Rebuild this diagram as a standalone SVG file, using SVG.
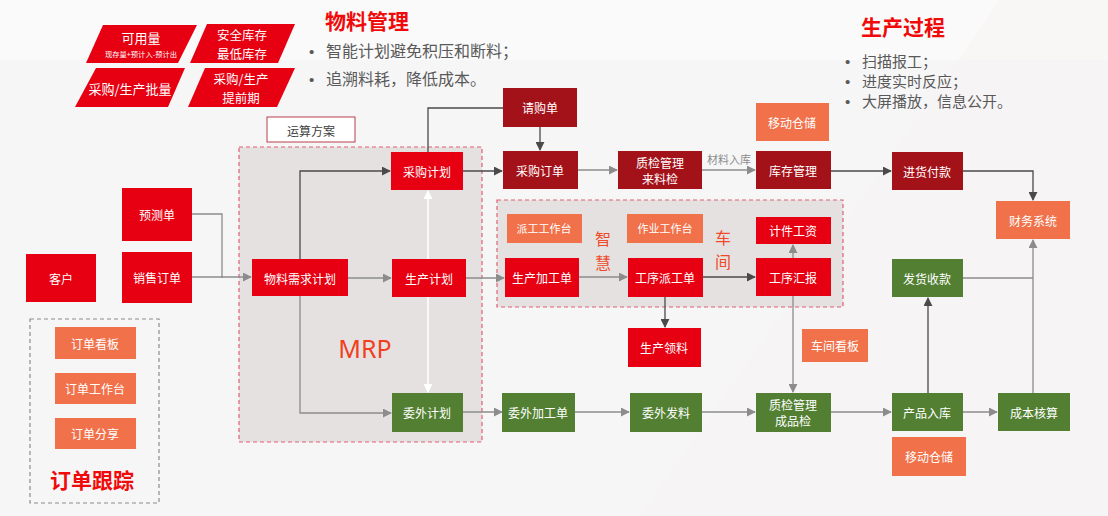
<svg xmlns="http://www.w3.org/2000/svg" width="1108" height="516" viewBox="0 0 1108 516">
<defs>
<style>
text{font-family:"Noto Sans CJK SC","Noto Sans",sans-serif}
.n{font-size:12px;fill:#fff;text-anchor:middle;dominant-baseline:central}
.red{fill:#E60012}
.dred{fill:#A31119}
.grn{fill:#527F32}
.org{fill:#F0714A}
.dk{fill:none;stroke:#4A4A4A;stroke-width:1.3}
.gy{fill:none;stroke:#8C8C8C;stroke-width:1.3}
.wh{fill:none;stroke:#FFFFFF;stroke-width:1.6}
.bul{font-size:15px;fill:#595959}
.dot{font-family:"Liberation Sans",Arial,sans-serif;font-size:15px;fill:#595959}
.ttl{font-size:21px;font-weight:bold;fill:#F00A0A}
.zone{fill:#E6E1E1;stroke:#E06075;stroke-width:1.2;stroke-dasharray:4 3}
</style>
<marker id="ad" viewBox="0 0 10 10" refX="9" refY="5" markerWidth="9" markerHeight="9" markerUnits="userSpaceOnUse" orient="auto"><path d="M0,0 L10,5 L0,10 z" fill="#4A4A4A"/></marker>
<marker id="ag" viewBox="0 0 10 10" refX="9" refY="5" markerWidth="9" markerHeight="9" markerUnits="userSpaceOnUse" orient="auto"><path d="M0,0 L10,5 L0,10 z" fill="#8C8C8C"/></marker>
<marker id="aw" viewBox="0 0 10 10" refX="9" refY="5" markerWidth="9" markerHeight="9" markerUnits="userSpaceOnUse" orient="auto"><path d="M0,0 L10,5 L0,10 z" fill="#FFFFFF"/></marker>
</defs>

<g id="background">
<rect x="0" y="0" width="1108" height="516" fill="#F6F6F7"/>
<polygon points="0,0 1108,0 1108,60 0,60" fill="#FAFAFA"/>
<polygon points="1000,0 1108,0 1108,516 640,516" fill="#F8F3F3" opacity="0.7"/>
</g>

<g id="param-cards">
<g id="card-available">
<polygon points="103,25 197,25 178,63 86,63" class="red"/>
<text x="141" y="37" class="n" style="font-size:13px">可用量</text>
<text x="141" y="54" class="n" style="font-size:7px" textLength="72" lengthAdjust="spacingAndGlyphs">现存量+预计入-预计出</text>
</g>
<g id="card-safety">
<polygon points="207,24 295,24 278,63 190,63" class="red"/>
<text x="242" y="34" class="n" style="font-size:12.5px">安全库存</text>
<text x="242" y="53" class="n" style="font-size:12.5px">最低库存</text>
</g>
<g id="card-batch">
<polygon points="96,68 185,68 168,107 75,107" class="red"/>
<text x="130" y="88" class="n" style="font-size:13px">采购/生产批量</text>
</g>
<g id="card-leadtime">
<polygon points="205,68 295,68 277,107 188,107" class="red"/>
<text x="241" y="78" class="n" style="font-size:12.5px">采购/生产</text>
<text x="241" y="97" class="n" style="font-size:12.5px">提前期</text>
</g>
</g>

<g id="material-mgmt">
<text x="325" y="29" class="ttl">物料管理</text>
<text x="309" y="57" class="dot">•</text>
<text x="326" y="57" class="bul" style="font-size:16px">智能计划避免积压和断料；</text>
<text x="309" y="85" class="dot">•</text>
<text x="326" y="85" class="bul" style="font-size:16px">追溯料耗，降低成本。</text>
</g>

<g id="production-process">
<text x="861" y="35" class="ttl">生产过程</text>
<text x="845" y="67" class="dot">•</text>
<text x="862" y="67" class="bul">扫描报工；</text>
<text x="845" y="87" class="dot">•</text>
<text x="862" y="87" class="bul">进度实时反应；</text>
<text x="845" y="107" class="dot">•</text>
<text x="862" y="107" class="bul">大屏播放，信息公开。</text>
</g>

<g id="zone-mrp">
<rect x="239" y="147" width="243" height="295" class="zone"/>
<text x="365" y="348" font-size="25" fill="#F0401E" text-anchor="middle" dominant-baseline="central" style="font-family:'Noto Sans','Open Sans',sans-serif">MRP</text>
</g>

<g id="zone-workshop">
<rect x="497" y="200" width="346" height="107" class="zone"/>
<text x="603" y="238" font-size="16" fill="#EE4B2B" text-anchor="middle" dominant-baseline="central">智</text>
<text x="603" y="262" font-size="16" fill="#EE4B2B" text-anchor="middle" dominant-baseline="central">慧</text>
<text x="723" y="237" font-size="16" fill="#EE4B2B" text-anchor="middle" dominant-baseline="central">车</text>
<text x="723" y="261" font-size="16" fill="#EE4B2B" text-anchor="middle" dominant-baseline="central">间</text>
</g>

<g id="zone-order-tracking">
<rect x="30" y="319" width="129" height="184" fill="none" stroke="#8C8C8C" stroke-width="1.2" stroke-dasharray="4 3"/>
<text x="92" y="479" font-size="21" font-weight="bold" fill="#F00A0A" text-anchor="middle" dominant-baseline="central">订单跟踪</text>
</g>

<g id="connectors">
<path d="M192,214 H222 V278" class="gy"/>
<path d="M192,277 H222 H251" class="gy" marker-end="url(#ag)"/>
<path d="M300,259 V171 H390" class="dk" marker-end="url(#ad)"/>
<path d="M348,278 H391" class="gy" marker-end="url(#ag)"/>
<path d="M300,296 V413 H391" class="gy" marker-end="url(#ag)"/>
<path d="M428,259 V191" class="wh" marker-end="url(#aw)"/>
<path d="M428,297 V392" class="wh" marker-end="url(#aw)"/>
<path d="M428,152 V108 H503" class="dk"/>
<path d="M540,127 V150" class="dk" marker-end="url(#ad)"/>
<path d="M463,171 H502" class="dk" marker-end="url(#ad)"/>
<path d="M578,170 H617" class="gy" marker-end="url(#ag)"/>
<path d="M702,170 H755" class="gy" marker-end="url(#ag)"/>
<text x="729" y="159" font-size="11" fill="#8C8C8C" text-anchor="middle" dominant-baseline="central">材料入库</text>
<path d="M831,171 H891" class="dk" marker-end="url(#ad)"/>
<path d="M963,171 H1033 V200" class="dk" marker-end="url(#ad)"/>
<path d="M963,278 H1033" class="gy"/>
<path d="M1033,393 V240" class="gy" marker-end="url(#ag)"/>
<path d="M466,278 H504" class="gy" marker-end="url(#ag)"/>
<path d="M579,277 H627" class="gy" marker-end="url(#ag)"/>
<path d="M703,277 H755" class="dk" marker-end="url(#ad)"/>
<path d="M665,297 V327" class="dk" marker-end="url(#ad)"/>
<path d="M793,258 V245" class="gy" marker-end="url(#ag)"/>
<path d="M793,296 V392" class="gy" marker-end="url(#ag)"/>
<path d="M463,412 H502" class="gy" marker-end="url(#ag)"/>
<path d="M575,412 H629" class="gy" marker-end="url(#ag)"/>
<path d="M702,412 H755" class="gy" marker-end="url(#ag)"/>
<path d="M831,412 H891" class="gy" marker-end="url(#ag)"/>
<path d="M963,412 H997" class="gy" marker-end="url(#ag)"/>
<path d="M928,393 V298" class="dk" marker-end="url(#ad)"/>
</g>

<g id="node-plan-box">
<rect x="267" y="117" width="88" height="25" fill="#FFFFFF" stroke="#B5404A" stroke-width="1"/>
<text x="311" y="130" class="n" style="fill:#404040">运算方案</text>
</g>

<g id="node-forecast"><rect x="122" y="188" width="70" height="53" class="red"/><text x="157" y="214" class="n">预测单</text></g>
<g id="node-sales-order"><rect x="122" y="252" width="70" height="51" class="red"/><text x="157" y="277" class="n">销售订单</text></g>
<g id="node-customer"><rect x="26" y="254" width="70" height="48" class="red"/><text x="61" y="278" class="n">客户</text></g>
<g id="node-order-board"><rect x="55" y="327" width="81" height="32" class="org"/><text x="95" y="343" class="n">订单看板</text></g>
<g id="node-order-desk"><rect x="55" y="373" width="81" height="31" class="org"/><text x="95" y="388" class="n">订单工作台</text></g>
<g id="node-order-share"><rect x="55" y="418" width="81" height="31" class="org"/><text x="95" y="433" class="n">订单分享</text></g>

<g id="node-mrp-calc"><rect x="252" y="259" width="96" height="37" class="red"/><text x="300" y="278" class="n">物料需求计划</text></g>
<g id="node-purchase-plan"><rect x="391" y="152" width="72" height="38" class="red"/><text x="427" y="171" class="n">采购计划</text></g>
<g id="node-production-plan"><rect x="392" y="259" width="74" height="38" class="red"/><text x="429" y="278" class="n">生产计划</text></g>
<g id="node-outsource-plan"><rect x="392" y="393" width="71" height="39" class="grn"/><text x="427" y="412" class="n">委外计划</text></g>

<g id="node-requisition"><rect x="503" y="88" width="74" height="39" class="dred"/><text x="540" y="107" class="n">请购单</text></g>
<g id="node-purchase-order"><rect x="503" y="151" width="75" height="38" class="dred"/><text x="540" y="170" class="n">采购订单</text></g>
<g id="node-incoming-qc"><rect x="618" y="151" width="84" height="38" class="dred"/><text x="660" y="162" class="n">质检管理</text><text x="660" y="178" class="n">来料检</text></g>
<g id="node-inventory"><rect x="756" y="151" width="75" height="38" class="dred"/><text x="793" y="170" class="n">库存管理</text></g>
<g id="node-mobile-wh-top"><rect x="756" y="103" width="73" height="38" class="org"/><text x="792" y="122" class="n">移动仓储</text></g>
<g id="node-payment"><rect x="892" y="152" width="71" height="38" class="dred"/><text x="927" y="171" class="n">进货付款</text></g>
<g id="node-finance"><rect x="996" y="201" width="74" height="38" class="org"/><text x="1033" y="220" class="n">财务系统</text></g>

<g id="node-dispatch-desk"><rect x="507" y="214" width="75" height="29" class="org"/><text x="544" y="228" class="n" style="font-size:11px">派工工作台</text></g>
<g id="node-work-desk"><rect x="627" y="214" width="76" height="29" class="org"/><text x="665" y="228" class="n" style="font-size:11px">作业工作台</text></g>
<g id="node-piece-wage"><rect x="756" y="217" width="75" height="27" class="red"/><text x="793" y="230" class="n">计件工资</text></g>
<g id="node-work-order"><rect x="505" y="258" width="74" height="39" class="red"/><text x="542" y="277" class="n">生产加工单</text></g>
<g id="node-dispatch"><rect x="628" y="258" width="75" height="39" class="red"/><text x="665" y="277" class="n">工序派工单</text></g>
<g id="node-report"><rect x="756" y="258" width="75" height="38" class="red"/><text x="793" y="277" class="n">工序汇报</text></g>
<g id="node-material-pick"><rect x="628" y="328" width="73" height="39" class="red"/><text x="664" y="347" class="n">生产领料</text></g>
<g id="node-workshop-board"><rect x="802" y="329" width="66" height="33" class="org"/><text x="835" y="345" class="n">车间看板</text></g>

<g id="node-delivery"><rect x="892" y="259" width="71" height="38" class="grn"/><text x="927" y="278" class="n">发货收款</text></g>
<g id="node-outsource-order"><rect x="502" y="393" width="73" height="39" class="grn"/><text x="538" y="412" class="n">委外加工单</text></g>
<g id="node-outsource-issue"><rect x="630" y="393" width="72" height="39" class="grn"/><text x="666" y="412" class="n">委外发料</text></g>
<g id="node-final-qc"><rect x="756" y="393" width="75" height="39" class="grn"/><text x="793" y="404" class="n">质检管理</text><text x="793" y="420" class="n">成品检</text></g>
<g id="node-product-in"><rect x="892" y="393" width="71" height="38" class="grn"/><text x="927" y="412" class="n">产品入库</text></g>
<g id="node-cost"><rect x="998" y="393" width="72" height="38" class="grn"/><text x="1034" y="412" class="n">成本核算</text></g>
<g id="node-mobile-wh-bottom"><rect x="892" y="437" width="74" height="39" class="org"/><text x="929" y="456" class="n">移动仓储</text></g>
</svg>
